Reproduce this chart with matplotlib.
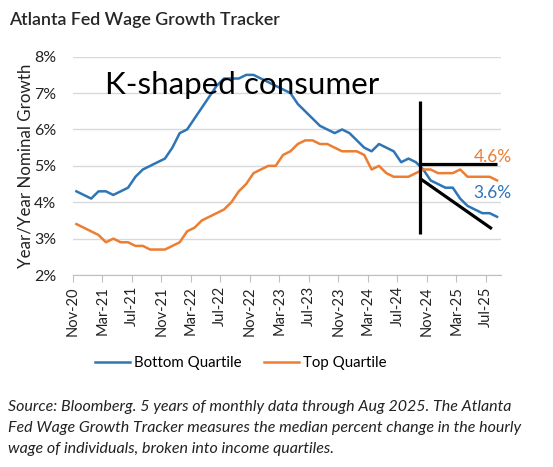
import matplotlib
matplotlib.use('Agg')
import matplotlib.pyplot as plt
import numpy as np

BLUE = '#2E75B6'
ORANGE = '#ED7D31'
GRID = '#D9D9D9'

# monthly, Nov-20 .. Aug-25
tick_labels = ['Nov-20', 'Mar-21', 'Jul-21', 'Nov-21', 'Mar-22', 'Jul-22', 'Nov-22', 'Mar-23',
               'Jul-23', 'Nov-23', 'Mar-24', 'Jul-24', 'Nov-24', 'Mar-25', 'Jul-25']
bottom_q = [4.3, 4.2, 4.1, 4.3, 4.3, 4.2, 4.3, 4.4, 4.7, 4.9, 5.0, 5.1, 5.2, 5.5,
            5.9, 6.0, 6.3, 6.6, 6.9, 7.2, 7.4, 7.4, 7.4, 7.5, 7.5, 7.4, 7.3, 7.2,
            7.1, 7.0, 6.7, 6.5, 6.3, 6.1, 6.0, 5.9, 6.0, 5.9, 5.7, 5.5, 5.4, 5.6, 5.5, 5.4,
            5.1, 5.2, 5.1, 4.9, 4.6, 4.5, 4.4, 4.4, 4.1, 3.9, 3.8, 3.7, 3.7, 3.6]
top_q = [3.4, 3.3, 3.2, 3.1, 2.9, 3.0, 2.9, 2.9, 2.8, 2.8, 2.7, 2.7, 2.7, 2.8,
         2.9, 3.2, 3.3, 3.5, 3.6, 3.7, 3.8, 4.0, 4.3, 4.5, 4.8, 4.9, 5.0, 5.0,
         5.3, 5.4, 5.6, 5.7, 5.7, 5.6, 5.6, 5.5, 5.4, 5.4, 5.4, 5.3, 4.9, 5.0, 4.8, 4.7,
         4.7, 4.7, 4.8, 4.9, 4.9, 4.8, 4.8, 4.8, 4.9, 4.7, 4.7, 4.7, 4.7, 4.6]

# hand-drawn "K" annotation (category units, percent)
k_stem = ([47.0, 47.0], [6.77, 3.12])
k_arm_top = ([47.0, 57.5], [5.04, 5.04])
k_arm_low = ([47.0, 56.8], [4.66, 3.27])

plt.rcParams['font.family'] = ['Lato', 'DejaVu Sans']

fig = plt.figure(figsize=(5.53, 4.67), dpi=100)
ax = fig.add_axes([0.1315, 0.4111, 0.774, 0.4675])

x = np.arange(len(bottom_q)) + 0.5
ax.plot(x, bottom_q, color=BLUE, linewidth=1.8, label='Bottom Quartile', solid_joinstyle='round')
ax.plot(x, top_q, color=ORANGE, linewidth=1.8, label='Top Quartile', solid_joinstyle='round')

for xs, ys in (k_stem, k_arm_top, k_arm_low):
    ax.plot(xs, ys, color='black', linewidth=2.3, solid_capstyle='butt')

ax.set_xlim(0, len(bottom_q))
ax.set_ylim(2, 8)
ax.set_yticks(np.arange(2, 9, 1))
ax.set_yticklabels(['{}%'.format(v) for v in range(2, 9)], fontsize=11.5)
ax.set_xticks(np.arange(0, len(bottom_q), 4))
ax.set_xticklabels(tick_labels, rotation=90, fontsize=10.5)
ax.tick_params(axis='y', length=0, pad=12, colors='#222222')
ax.tick_params(axis='x', length=5, width=0.8, color='#BFBFBF', pad=3, labelcolor='#222222')
ax.grid(axis='y', color=GRID, linewidth=1)
ax.set_axisbelow(True)
for s in ['top', 'right', 'left']:
    ax.spines[s].set_visible(False)
ax.spines['bottom'].set_color('#BFBFBF')
ax.spines['bottom'].set_linewidth(0.8)
ax.set_ylabel('Year/Year Nominal Growth', fontsize=12.2, color='#222222', labelpad=0)

ax.text(23.0, 7.22, 'K-shaped consumer', fontsize=22.6, ha='center', va='center', color='black')
ax.text(54.3, 5.25, '4.6%', color=ORANGE, fontsize=12.5, ha='left', va='center', clip_on=False)
ax.text(54.3, 4.26, '3.6%', color=BLUE, fontsize=12.5, ha='left', va='center', clip_on=False)

fig.text(0.016, 0.975, 'Atlanta Fed Wage Growth Tracker', fontsize=12.8, fontweight='semibold',
         color='#262626', ha='left', va='top')

handles, labels = ax.get_legend_handles_labels()
fig.legend(handles, labels, loc='center', bbox_to_anchor=(0.436, 0.223), ncol=2, frameon=False,
           fontsize=10.8, handlelength=2.3, columnspacing=1.5, handletextpad=0.3)

fig.text(0.014, 0.0835, 'Source: Bloomberg. 5 years of monthly data through Aug 2025. The Atlanta\n'
         'Fed Wage Growth Tracker measures the median percent change in the hourly\n'
         'wage of individuals, broken into income quartiles.',
         fontsize=11.5, style='italic', ha='left', va='center', linespacing=1.6, color='#222222')

fig.savefig('out.png', dpi=100)
